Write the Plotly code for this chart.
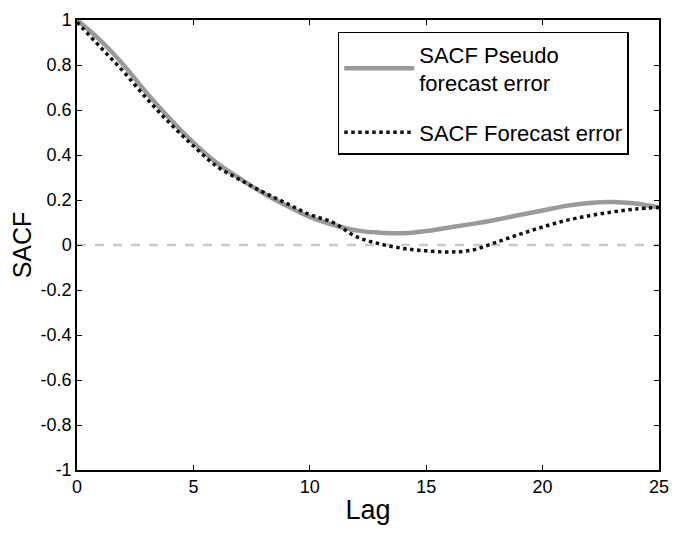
import plotly.graph_objects as go

lags = list(range(26))
sacf_pseudo = [1.0, 0.91, 0.80, 0.675, 0.56, 0.455, 0.365, 0.295, 0.23, 0.175,
               0.125, 0.09, 0.065, 0.055, 0.052, 0.062, 0.078, 0.094, 0.112, 0.133,
               0.153, 0.174, 0.187, 0.191, 0.184, 0.167]
sacf_forecast = [0.99, 0.88, 0.77, 0.65, 0.54, 0.44, 0.35, 0.29, 0.235, 0.185,
                 0.135, 0.10, 0.037, 0.005, -0.015, -0.026, -0.031, -0.022, 0.012, 0.047,
                 0.08, 0.109, 0.13, 0.147, 0.16, 0.167]
x_ticks = [0, 5, 10, 15, 20, 25]
y_tickvals = [1, 0.8, 0.6, 0.4, 0.2, 0, -0.2, -0.4, -0.6, -0.8, -1]
y_ticktext = ["1", "0.8", "0.6", "0.4", "0.2", "0", "-0.2", "-0.4", "-0.6", "-0.8", "-1"]

FONT = "Liberation Sans, Arial, sans-serif"

fig = go.Figure()
fig.add_trace(go.Scatter(
    x=lags, y=sacf_pseudo, mode="lines", line_shape="spline",
    name="SACF Pseudo<br>forecast error", legendgroup="a",
    line=dict(color="#9a9a9a", width=4.5)))
fig.add_trace(go.Scatter(
    x=lags, y=sacf_forecast, mode="lines", line_shape="spline",
    name="SACF Forecast error", legendgroup="b",
    line=dict(color="#111111", width=3.5, dash="dot")))

fig.add_hline(y=0, line=dict(color="#c8c8c8", width=2.5, dash="dash"), layer="below")

axis_common = dict(
    showline=True, linecolor="black", linewidth=1.5, mirror="ticks",
    ticks="inside", ticklen=5, tickwidth=1, tickcolor="black",
    showgrid=False, zeroline=False,
    tickfont=dict(family=FONT, size=18, color="black"),
)

fig.update_xaxes(range=[0, 25], tickvals=x_ticks,
                 title=dict(text="Lag", font=dict(family=FONT, size=27, color="black"), standoff=4),
                 **axis_common)
fig.update_yaxes(range=[-1, 1], tickvals=y_tickvals, ticktext=y_ticktext,
                 title=dict(text="SACF", font=dict(family=FONT, size=25, color="black"), standoff=2),
                 **axis_common)

fig.update_layout(
    width=696, height=535,
    margin=dict(l=77, r=37, t=10, b=65),
    paper_bgcolor="white", plot_bgcolor="white",
    font=dict(family=FONT, color="black"),
    legend=dict(x=0.448, y=0.974, xanchor="left", yanchor="top",
                bgcolor="white", bordercolor="black", borderwidth=1.5,
                font=dict(family=FONT, size=22, color="black"),
                itemwidth=70, tracegroupgap=18),
    showlegend=True,
)

fig.write_html("out.html")
